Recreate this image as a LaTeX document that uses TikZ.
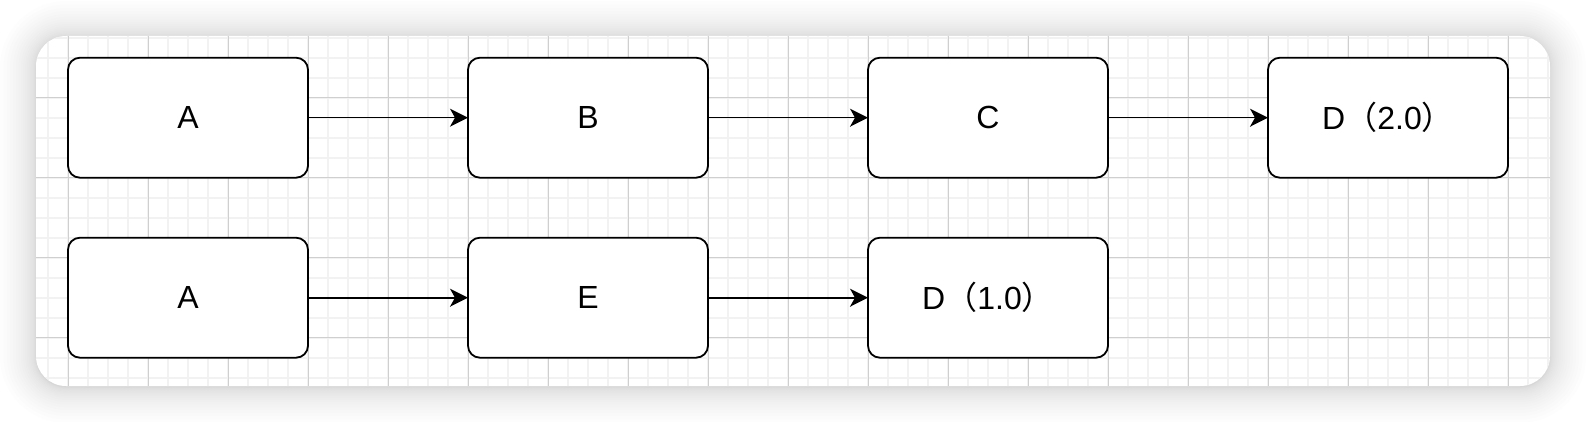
\documentclass[tikz,border=0pt]{standalone}
\usepackage{fontspec}
\setmainfont{Liberation Sans}
\newfontfamily\cjk{Noto Sans CJK SC}
\usetikzlibrary{arrows.meta}
\newcommand\fw[1]{{\cjk #1}}
\tikzset{
  box/.style={draw, line width=1.8pt, rounded corners=12pt, fill=white,
    minimum width=240pt, minimum height=120pt, outer sep=0pt,
    font=\fontsize{32}{38}\selectfont},
  link/.style={line width=1.6pt, -{Stealth[length=18pt,width=18pt,inset=5pt]}},
  minorgrid/.style={draw=black!5, line width=2pt},
  majorgrid/.style={draw=black!19, line width=1pt}
}

\begin{document}
\begin{tikzpicture}[x=1pt,y=-1pt]
\useasboundingbox (0,0) rectangle (1586,422);
\fill[white] (0,0) rectangle (1586,422);
\foreach \i in {1,...,20} {
  \pgfmathsetmacro\o{36*(\i/20)^2}
  \fill[black, opacity=0.009, rounded corners={(30+\o)*1pt}]
    ({36-\o},{37-\o}) rectangle ({1550+\o},{387+\o});
}
\fill[white, rounded corners=30pt] (36,36) rectangle (1550,386);
\begin{scope}
\clip[rounded corners=30pt] (36,36) rectangle (1550,386);
\foreach \x in {48,68,...,1548} \draw[minorgrid] (\x,36) -- (\x,386);
\foreach \y in {37.7,57.7,...,378} \draw[minorgrid] (36,\y) -- (1550,\y);
\foreach \x in {68,148,...,1508} \draw[majorgrid] (\x,36) -- (\x,386);
\foreach \y in {97.7,177.7,257.7,337.7} \draw[majorgrid] (36,\y) -- (1550,\y);
\end{scope}
\node[box] (a1) at (188,117.7) {A};
\node[box] (b) at (588,117.7) {B};
\node[box] (c) at (988,117.7) {C};
\node[box] (d2) at (1388,117.7) {D\fw{（}2.0\fw{）}};
\node[box] (a2) at (188,297.7) {A};
\node[box] (e) at (588,297.7) {E};
\node[box] (d1) at (988,297.7) {D\fw{（}1.0\fw{）}};
\draw[link] (a1) -- (b);
\draw[link] (b) -- (c);
\draw[link] (c) -- (d2);
\draw[link] (a2) -- (e);
\draw[link] (e) -- (d1);
\end{tikzpicture}
\end{document}
